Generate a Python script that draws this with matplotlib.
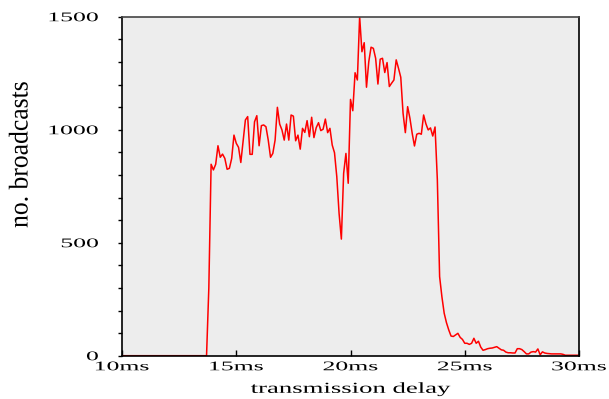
import numpy as np
import matplotlib
matplotlib.use("Agg")
import matplotlib.pyplot as plt
import matplotlib.patheffects as pe
from matplotlib.transforms import Affine2D
from matplotlib.ticker import MultipleLocator

# broadcasts per 0.1 ms bin of transmission delay (10.0 .. 30.0 ms)
counts_idle = [0, 0, 0, 0, 0, 0, 0, 0, 0, 0,
               0, 0, 0, 0, 0, 0, 0, 0, 0, 0,
               0, 0, 0, 0, 0, 0, 0, 0, 0, 0,
               0, 0, 0, 0, 0, 0, 0, 0]          # 10.0 - 13.7
counts_rise = [300, 847]                          # 13.8 - 13.9
counts_plateau = [822, 847, 929, 878, 892, 873, 825, 829, 873, 976,
                  940, 922, 855, 947, 1043, 1058, 891, 891, 1035, 1062,
                  929, 1018, 1021, 1013, 954, 878, 895, 954, 1099, 1025,
                  999, 954, 1025, 954, 1065, 1060, 951, 976, 914, 1006,
                  988, 1040, 969, 1055, 965, 1009, 1031, 996, 1002, 1047,
                  987, 1006, 932, 898, 792, 630, 516, 807, 895, 763,
                  1134]                           # 14.0 - 20.0
counts_peak = [1084, 1252, 1220, 1500, 1345, 1385, 1188, 1301, 1365, 1360,
               1316, 1202, 1312, 1316, 1253, 1297, 1191, 1206, 1220, 1309,
               1272, 1232, 1073, 987, 1102, 1051, 984, 928, 980, 984,
               980, 1065, 1026, 999, 1008, 972, 1012, 780, 350]   # 20.1 - 23.9
counts_tail = [261, 188, 146, 114, 87, 85, 92, 99, 81, 72,
               55, 55, 50, 55, 77, 55, 64, 38, 24, 27,
               31, 33, 34, 37, 40, 33, 26, 24, 16, 13,
               13, 12, 12, 31, 31, 27, 18, 8, 8, 16,
               18, 16, 30, 4, 17, 12, 10, 9, 8, 8,
               8, 8, 8, 6, 2, 2, 2, 2, 2, 2, 2]   # 24.0 - 30.0

x_ticks = [10, 15, 20, 25, 30]
x_tick_labels = ["10ms", "15ms", "20ms", "25ms", "30ms"]
y_ticks = [0, 500, 1000, 1500]

counts = np.array(counts_idle + counts_rise + counts_plateau + counts_peak + counts_tail)
delay = np.round(10.0 + 0.1 * np.arange(len(counts)), 1)


class Stretch(pe.AbstractPathEffect):
    # draw text glyphs scaled along / across the text direction
    def __init__(self, sx=1.0, sy=1.0, anchor="center"):
        super().__init__()
        self.sx, self.sy, self.anchor = sx, sy, anchor

    def draw_path(self, renderer, gc, tpath, affine, rgbFace=None):
        ext = tpath.get_extents()
        x0 = {"left": ext.x0, "center": (ext.x0 + ext.x1) / 2, "right": ext.x1}[self.anchor]
        pre = Affine2D().translate(-x0, 0).scale(self.sx, self.sy).translate(x0, 0)
        renderer.draw_path(gc, tpath, pre + affine, rgbFace)


plt.rcParams['font.family'] = ['Liberation Serif', 'DejaVu Serif']

fig = plt.figure(figsize=(6.09, 3.99), dpi=100)
ax = fig.add_axes([122 / 609, 1 - 355.7 / 399, 457 / 609, 339 / 399])
ax.set_facecolor("#ededed")

ax.plot(delay, counts, color="#ff0000", linewidth=1.1)

ax.set_xlim(10, 30)
ax.set_ylim(0, 1500)
ax.set_xticks(x_ticks, x_tick_labels)
ax.set_yticks(y_ticks)
ax.yaxis.set_minor_locator(MultipleLocator(100))
ax.tick_params(axis="x", direction="in", length=4, width=1, pad=4, labelsize=9.5)
ax.tick_params(axis="y", which="both", direction="out", length=3, width=1, pad=14, labelsize=9.5)

for side in ["left", "bottom", "right"]:
    ax.spines[side].set_color("black")
    ax.spines[side].set_linewidth(1.2)
ax.spines["top"].set_color("#444444")
ax.spines["top"].set_linewidth(1.2)

ax.set_xlabel("transmission delay", fontsize=11)
ax.xaxis.set_label_coords(0.5, -0.08)
ax.xaxis.label.set_va("top")
ax.set_ylabel("no. broadcasts", fontsize=13)
ax.yaxis.set_label_coords(-0.198, 0.592)

for lbl in ax.get_xticklabels():
    lbl.set_path_effects([Stretch(1.95, 1.0, "center")])
for lbl in ax.get_yticklabels():
    lbl.set_path_effects([Stretch(1.95, 1.0, "right")])
ax.xaxis.label.set_path_effects([Stretch(1.75, 1.0, "center")])
ax.yaxis.label.set_path_effects([Stretch(1.42, 1.5, "center")])

fig.savefig("out.png", dpi=100)
